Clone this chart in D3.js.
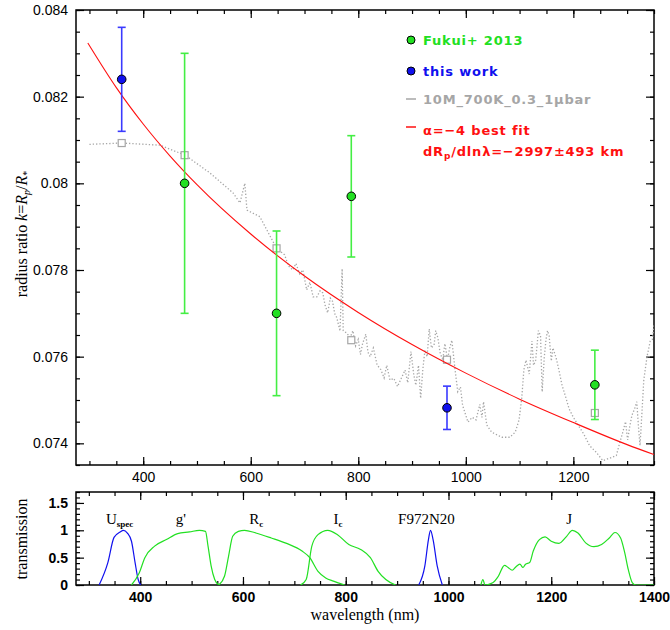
<!DOCTYPE html>
<html>
<head>
<meta charset="utf-8">
<script src="https://cdn.jsdelivr.net/npm/d3@7"></script>
<style>
  body { margin: 0; background: #fff; }
  svg { display: block; }
  .tick text { font-family: "Liberation Sans", Arial, sans-serif; }
</style>
</head>
<body>
<svg id="chart" width="670" height="630"></svg>
<script>
// ---- data ----
const FUKUI_WAVE = [477, 648, 787, 1240];
const FUKUI_K = [0.0800, 0.0770, 0.0797, 0.07535];
const FUKUI_ERR = [0.0030, 0.0019, 0.0014, 0.0008];

const THIS_WAVE = [360, 965];
const THIS_K = [0.0824, 0.07482];
const THIS_ERR = [0.0012, 0.0005];

const MODEL_BIN_WAVE = [360, 477, 648, 787, 965, 1240];
const MODEL_BIN_K = [0.08093, 0.08065, 0.0785, 0.07638, 0.07593, 0.0747];

const MODEL_WAVE = [300, 360, 431, 478, 524, 567, 580, 589, 593, 617, 648, 663, 670, 678, 684, 691, 697, 704, 710, 716, 723, 729, 734, 738, 743, 748, 752, 756, 760, 766, 770, 772, 778, 785, 790, 795, 800, 804, 808, 814, 818, 822, 828, 835, 842, 848, 853, 859, 866, 873, 880, 887, 892, 898, 903, 907, 912, 916, 920, 924, 928, 932, 936, 941, 944, 948, 952, 957, 961, 966, 970, 974, 980, 985, 990, 994, 1004, 1012, 1019, 1026, 1030, 1033, 1039, 1048, 1067, 1082, 1092, 1099, 1104, 1108, 1112, 1118, 1123, 1126, 1130, 1135, 1139, 1142, 1146, 1149, 1152, 1155, 1159, 1162, 1168, 1173, 1179, 1185, 1192, 1200, 1209, 1220, 1230, 1242, 1255, 1268, 1280, 1286, 1292, 1297, 1301, 1305, 1309, 1314, 1318, 1321, 1324, 1328, 1331, 1337, 1343, 1347, 1350];
const MODEL_K = [0.0809, 0.08093, 0.08088, 0.08065, 0.08024, 0.07978, 0.07955, 0.0800, 0.07938, 0.07923, 0.0785, 0.07835, 0.0781, 0.0780, 0.07815, 0.07791, 0.0780, 0.07754, 0.07772, 0.07738, 0.07738, 0.07752, 0.07747, 0.0772, 0.07701, 0.07735, 0.07728, 0.0770, 0.0769, 0.07659, 0.07803, 0.0766, 0.07655, 0.07644, 0.0766, 0.07625, 0.0764, 0.07605, 0.0763, 0.07652, 0.0761, 0.076, 0.0762, 0.07581, 0.0757, 0.07551, 0.0758, 0.07546, 0.0755, 0.07531, 0.0755, 0.07569, 0.0754, 0.07612, 0.0756, 0.07534, 0.0758, 0.07504, 0.0757, 0.07615, 0.076, 0.07664, 0.0762, 0.07627, 0.0766, 0.07644, 0.0761, 0.07592, 0.0763, 0.07593, 0.0762, 0.07638, 0.0757, 0.07519, 0.0753, 0.07488, 0.07449, 0.0746, 0.07454, 0.0749, 0.0746, 0.07496, 0.07442, 0.07426, 0.07414, 0.07414, 0.07426, 0.07454, 0.07504, 0.0757, 0.07592, 0.0756, 0.07636, 0.0758, 0.07592, 0.0766, 0.07648, 0.07519, 0.076, 0.07638, 0.0766, 0.07648, 0.0759, 0.0762, 0.07597, 0.0757, 0.07534, 0.0751, 0.0748, 0.0746, 0.07442, 0.0742, 0.07395, 0.0738, 0.0736, 0.07366, 0.07372, 0.074, 0.07426, 0.0745, 0.07408, 0.0744, 0.07465, 0.0748, 0.07496, 0.0744, 0.07395, 0.0748, 0.07546, 0.076, 0.07636, 0.0764, 0.07673];

const FIT_WAVE = [297, 350, 400, 450, 500, 600, 700, 800, 900, 1000, 1100, 1200, 1300, 1350];
const FIT_K = [0.08324, 0.08221, 0.08137, 0.08063, 0.07997, 0.07883, 0.07786, 0.07702, 0.07628, 0.07562, 0.07502, 0.07448, 0.07397, 0.07374];

// filter transmission curves (bottom panel)
const USPEC_WAVE = [320, 337, 349, 361, 367, 375, 383, 390, 396, 401];
const USPEC_T = [0, 0.41, 0.87, 0.97, 1.0, 0.95, 0.8, 0.41, 0.1, 0];
const G_WAVE = [383, 398, 409, 428, 451, 473, 496, 515, 527, 532, 538, 545, 553];
const G_T = [0, 0.22, 0.5, 0.71, 0.83, 0.94, 0.97, 1.0, 0.98, 0.71, 0.35, 0.1, 0];
const RC_WAVE = [553, 564, 572, 580, 591, 603, 625, 655, 685, 715, 730, 746, 761, 776, 798];
const RC_T = [0, 0.16, 0.53, 0.89, 0.98, 1.0, 0.95, 0.86, 0.76, 0.62, 0.5, 0.25, 0.13, 0.07, 0];
const IC_WAVE = [712, 723, 734, 746, 765, 784, 806, 829, 848, 863, 878, 897];
const IC_T = [0, 0.1, 0.71, 0.92, 1.0, 0.92, 0.74, 0.65, 0.5, 0.25, 0.1, 0];
const F972_WAVE = [942, 954, 961, 965, 970, 978, 988];
const F972_T = [0, 0.35, 0.83, 1.0, 0.83, 0.35, 0];
const J_WAVE = [1063, 1067, 1071, 1086, 1097, 1109, 1116, 1124, 1131, 1139, 1145, 1150, 1158, 1165, 1177, 1188, 1200, 1215, 1230, 1241, 1252, 1267, 1283, 1298, 1313, 1324, 1335, 1343, 1350, 1358, 1365, 1400];
const J_T = [0, 0.1, 0, 0.04, 0.16, 0.36, 0.32, 0.27, 0.33, 0.38, 0.32, 0.38, 0.41, 0.62, 0.83, 0.88, 0.8, 0.76, 0.89, 1.0, 0.95, 0.77, 0.7, 0.74, 0.86, 0.96, 0.86, 0.59, 0.28, 0.04, 0, 0];

const FILTER_LABELS = [
    { main: "U", sub: "spec", wave: 360 },
    { main: "g'", sub: "", wave: 479 },
    { main: "R", sub: "c", wave: 626 },
    { main: "I", sub: "c", wave: 785 },
    { main: "F972N20", sub: "", wave: 957 },
    { main: "J", sub: "", wave: 1235 },
];
const FILTER_LABEL_T = 1.12;

const TOP_X_TICKS = [400, 600, 800, 1000, 1200];
const TOP_Y_TICKS = [0.074, 0.076, 0.078, 0.08, 0.082, 0.084];
const BOT_X_TICKS = [400, 600, 800, 1000, 1200, 1400];
const BOT_Y_TICKS = [0, 0.5, 1, 1.5];

const GREEN = "#22e022";
const GREEN_BAR = "#44ee44";
const BLUE = "#1010ee";
const BLUE_BAR = "#3a3aff";
const RED = "#ff1010";
const GREY = "#a6a6a6";

// ---- layout ----
const svg = d3.select("#chart");
const topBox = { left: 76, right: 654, top: 10, bottom: 465 };
const botBox = { left: 76, right: 654, top: 492, bottom: 585 };

const xTop = d3.scaleLinear().domain([275, 1350]).range([topBox.left, topBox.right]);
const yTop = d3.scaleLinear().domain([0.0735, 0.084]).range([topBox.bottom, topBox.top]);
const xBot = d3.scaleLinear().domain([275, 1400]).range([botBox.left, botBox.right]);
const yBot = d3.scaleLinear().domain([0, 1.7]).range([botBox.bottom, botBox.top]);

svg.append("clipPath").attr("id", "clipTop")
    .append("rect")
    .attr("x", topBox.left).attr("y", topBox.top)
    .attr("width", topBox.right - topBox.left).attr("height", topBox.bottom - topBox.top);
svg.append("clipPath").attr("id", "clipBot")
    .append("rect")
    .attr("x", botBox.left).attr("y", botBox.top)
    .attr("width", botBox.right - botBox.left).attr("height", botBox.bottom - botBox.top);

// axes with inward ticks on all four sides
const drawFrame = (box, xs, ys, xTicks, yTicks, xMinorStep, yMinorStep, yFmt, labelWeight) => {
    const g = svg.append("g");
    const xMinor = d3.range(Math.ceil(xs.domain()[0] / xMinorStep) * xMinorStep, xs.domain()[1] + 1e-9, xMinorStep);
    const yMinor = d3.range(0, 200).map((i) => +(Math.ceil(ys.domain()[0] / yMinorStep) * yMinorStep + i * yMinorStep).toFixed(6))
        .filter((v) => v <= ys.domain()[1] + 1e-9);

    const style = (sel) => {
        sel.select(".domain").remove();
        sel.selectAll(".tick line").attr("stroke", "#000").attr("stroke-width", 1.2);
        sel.selectAll(".tick text").attr("fill", "#000").attr("font-size", 14).attr("font-weight", labelWeight);
    };

    g.append("g").attr("transform", `translate(0,${box.bottom})`)
        .call(d3.axisBottom(xs).tickValues(xMinor).tickSize(-4).tickFormat("")).call(style);
    g.append("g").attr("transform", `translate(0,${box.bottom})`)
        .call(d3.axisBottom(xs).tickValues(xTicks).tickSize(-8).tickPadding(7).tickFormat(d3.format("d"))).call(style);
    g.append("g").attr("transform", `translate(0,${box.top})`)
        .call(d3.axisTop(xs).tickValues(xMinor).tickSize(-4).tickFormat("")).call(style);
    g.append("g").attr("transform", `translate(0,${box.top})`)
        .call(d3.axisTop(xs).tickValues(xTicks).tickSize(-8).tickFormat("")).call(style);

    g.append("g").attr("transform", `translate(${box.left},0)`)
        .call(d3.axisLeft(ys).tickValues(yMinor).tickSize(-4).tickFormat("")).call(style);
    g.append("g").attr("transform", `translate(${box.left},0)`)
        .call(d3.axisLeft(ys).tickValues(yTicks).tickSize(-8).tickPadding(8).tickFormat(yFmt)).call(style);
    g.append("g").attr("transform", `translate(${box.right},0)`)
        .call(d3.axisRight(ys).tickValues(yMinor).tickSize(-4).tickFormat("")).call(style);
    g.append("g").attr("transform", `translate(${box.right},0)`)
        .call(d3.axisRight(ys).tickValues(yTicks).tickSize(-8).tickFormat("")).call(style);

    g.append("rect")
        .attr("x", box.left).attr("y", box.top)
        .attr("width", box.right - box.left).attr("height", box.bottom - box.top)
        .attr("fill", "none").attr("stroke", "#000").attr("stroke-width", 1.5);
};

drawFrame(topBox, xTop, yTop, TOP_X_TICKS, TOP_Y_TICKS, 50, 0.0005, (d) => String(+d.toFixed(3)), "normal");
drawFrame(botBox, xBot, yBot, BOT_X_TICKS, BOT_Y_TICKS, 50, 0.1, (d) => String(d), "bold");

// ---- top panel ----
const plot = svg.append("g").attr("clip-path", "url(#clipTop)");

const zip = (xs, ys) => xs.map((x, i) => [x, ys[i]]);
const lineTop = d3.line().x((d) => xTop(d[0])).y((d) => yTop(d[1]));

plot.append("path")
    .attr("d", lineTop(zip(MODEL_WAVE, MODEL_K)))
    .attr("fill", "none").attr("stroke", GREY)
    .attr("stroke-width", 1.3).attr("stroke-dasharray", "1.3,2");

plot.selectAll("rect.bin")
    .data(zip(MODEL_BIN_WAVE, MODEL_BIN_K))
    .enter().append("rect").attr("class", "bin")
    .attr("x", (d) => xTop(d[0]) - 3.5).attr("y", (d) => yTop(d[1]) - 3.5)
    .attr("width", 7).attr("height", 7)
    .attr("fill", "#fff").attr("stroke", GREY).attr("stroke-width", 1.2);

plot.append("path")
    .attr("d", lineTop.curve(d3.curveMonotoneX)(zip(FIT_WAVE, FIT_K)))
    .attr("fill", "none").attr("stroke", RED).attr("stroke-width", 1.1);

const drawPoints = (waves, ks, errs, barColor, fill) => {
    const pts = waves.map((w, i) => ({ w, k: ks[i], e: errs[i] }));
    const g = plot.append("g");
    const bars = g.selectAll("g.bar").data(pts).enter().append("g")
        .attr("stroke", barColor).attr("stroke-width", 1.6);
    bars.append("line")
        .attr("x1", (d) => xTop(d.w)).attr("x2", (d) => xTop(d.w))
        .attr("y1", (d) => yTop(d.k - d.e)).attr("y2", (d) => yTop(d.k + d.e));
    [-1, 1].forEach((s) => {
        bars.append("line")
            .attr("x1", (d) => xTop(d.w) - 4).attr("x2", (d) => xTop(d.w) + 4)
            .attr("y1", (d) => yTop(d.k + s * d.e)).attr("y2", (d) => yTop(d.k + s * d.e));
    });
    g.selectAll("circle").data(pts).enter().append("circle")
        .attr("cx", (d) => xTop(d.w)).attr("cy", (d) => yTop(d.k)).attr("r", 4.3)
        .attr("fill", fill).attr("stroke", "#000").attr("stroke-width", 1);
};
drawPoints(FUKUI_WAVE, FUKUI_K, FUKUI_ERR, GREEN_BAR, GREEN);
drawPoints(THIS_WAVE, THIS_K, THIS_ERR, BLUE_BAR, BLUE);

// legend
const legend = svg.append("g")
    .attr("font-family", "'DejaVu Sans', sans-serif").attr("font-weight", "bold")
    .attr("font-size", 13).attr("letter-spacing", 0.8);
legend.append("circle").attr("cx", 411).attr("cy", 40).attr("r", 4).attr("fill", GREEN).attr("stroke", "#000");
legend.append("text").attr("x", 423).attr("y", 45).attr("fill", GREEN).text("Fukui+ 2013");
legend.append("circle").attr("cx", 411).attr("cy", 71).attr("r", 4).attr("fill", BLUE).attr("stroke", "#000");
legend.append("text").attr("x", 423).attr("y", 76).attr("fill", BLUE).text("this work");
legend.append("line").attr("x1", 406).attr("x2", 416).attr("y1", 99).attr("y2", 99).attr("stroke", GREY).attr("stroke-width", 1.5);
legend.append("text").attr("x", 423).attr("y", 104).attr("fill", GREY).text("10M_700K_0.3_1\u03bcbar");
legend.append("line").attr("x1", 406).attr("x2", 416).attr("y1", 127).attr("y2", 127).attr("stroke", RED).attr("stroke-width", 1.5);
legend.append("text").attr("x", 423).attr("y", 135).attr("fill", RED).text("\u03b1=\u22124 best fit");
const dr = legend.append("text").attr("x", 423).attr("y", 156).attr("fill", RED);
dr.append("tspan").text("dR");
dr.append("tspan").attr("font-size", 9).attr("dy", 3).text("p");
dr.append("tspan").attr("dy", -3).text("/dln\u03bb=\u22122997\u00b1493 km");

// y label (top)
const ylab = svg.append("text")
    .attr("transform", "translate(27,234) rotate(-90)")
    .attr("text-anchor", "middle")
    .attr("font-family", "'Liberation Serif', 'Times New Roman', serif").attr("font-size", 16);
ylab.append("tspan").text("radius ratio ");
ylab.append("tspan").attr("font-style", "italic").text("k");
ylab.append("tspan").text("=");
ylab.append("tspan").attr("font-style", "italic").text("R");
ylab.append("tspan").attr("font-size", 10).attr("dy", 3).attr("font-style", "italic").text("p");
ylab.append("tspan").attr("dy", -3).text("/");
ylab.append("tspan").attr("font-style", "italic").text("R");
ylab.append("tspan").attr("font-size", 10).attr("dy", 3).text("*");

// ---- bottom panel ----
const bplot = svg.append("g").attr("clip-path", "url(#clipBot)");
const lineBot = d3.line().x((d) => xBot(d[0])).y((d) => yBot(d[1])).curve(d3.curveMonotoneX);
const FILTERS = [
    [USPEC_WAVE, USPEC_T, BLUE],
    [G_WAVE, G_T, GREEN],
    [RC_WAVE, RC_T, GREEN],
    [IC_WAVE, IC_T, GREEN],
    [F972_WAVE, F972_T, BLUE],
    [J_WAVE, J_T, GREEN],
];
FILTERS.forEach(([w, t, c]) => {
    bplot.append("path").attr("d", lineBot(zip(w, t)))
        .attr("fill", "none").attr("stroke", c).attr("stroke-width", 1.2);
});

const flab = svg.append("g")
    .attr("font-family", "'Liberation Serif', 'Times New Roman', serif").attr("font-size", 15)
    .attr("text-anchor", "middle");
FILTER_LABELS.forEach((f) => {
    const t = flab.append("text").attr("x", xBot(f.wave)).attr("y", yBot(FILTER_LABEL_T));
    t.append("tspan").text(f.main);
    if (f.sub) t.append("tspan").attr("font-size", 9).attr("font-weight", "bold").attr("dy", 3).text(f.sub);
});

svg.append("text")
    .attr("transform", "translate(27,539) rotate(-90)")
    .attr("text-anchor", "middle")
    .attr("font-family", "'Liberation Serif', 'Times New Roman', serif").attr("font-size", 16)
    .text("transmission");

svg.append("text")
    .attr("x", 365).attr("y", 620)
    .attr("text-anchor", "middle")
    .attr("font-family", "'Liberation Serif', 'Times New Roman', serif").attr("font-size", 16)
    .text("wavelength (nm)");
</script>
</body>
</html>
